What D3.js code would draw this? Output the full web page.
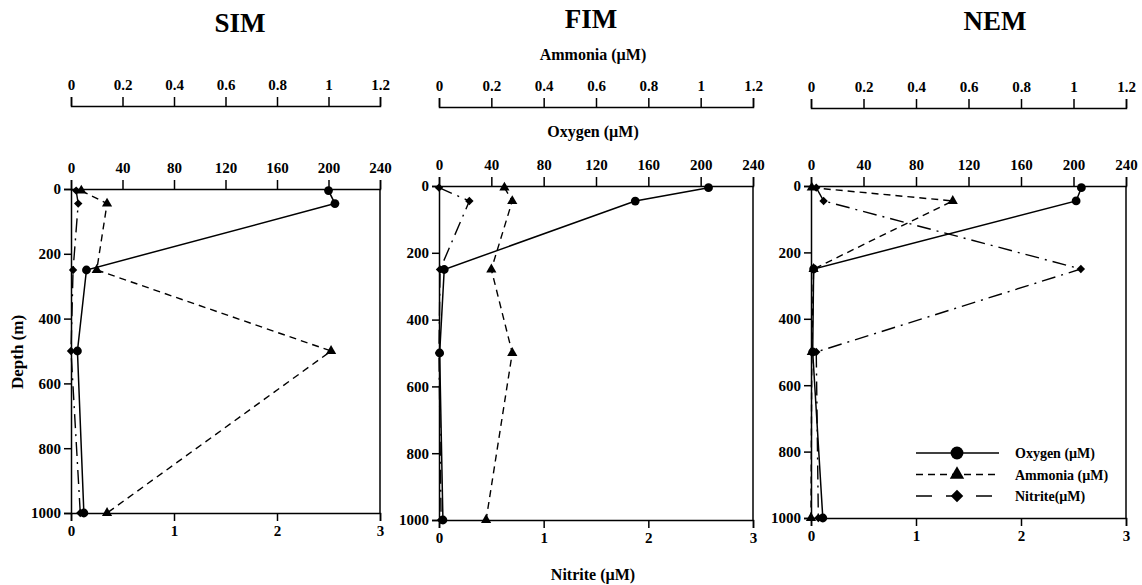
<!DOCTYPE html>
<html>
<head>
<meta charset="utf-8">
<script src="https://cdn.jsdelivr.net/npm/d3@7"></script>
<style>
  body { margin: 0; background: #fff; }
  text { font-family: "Liberation Serif", "Times New Roman", serif; font-weight: bold; fill: #000; }
</style>
</head>
<body>
<svg id="mainsvg" width="1142" height="585"></svg>
<script>

// data
const stations = ["SIM", "FIM", "NEM"]
const depths = [5, 45, 250, 500, 1000]

const oxygenSIM = [200, 205, 12, 5, 10]
const ammoniaSIM = [0.04, 0.14, 0.10, 1.01, 0.14]
const nitriteSIM = [0.05, 0.07, 0.02, 0.0, 0.09]

const oxygenFIM = [206, 150, 4, 0.5, 3]
const ammoniaFIM = [0.25, 0.28, 0.20, 0.28, 0.18]
const nitriteFIM = [0.0, 0.29, 0.01, 0.0, 0.02]

const oxygenNEM = [206, 202, 2, 1.3, 9]
const ammoniaNEM = [0.003, 0.54, 0.01, 0.003, 0.0]
const nitriteNEM = [0.05, 0.12, 2.57, 0.05, 0.07]

const oxygenTicks = [0, 40, 80, 120, 160, 200, 240]
const ammoniaTicks = [0, 0.2, 0.4, 0.6, 0.8, 1, 1.2]
const nitriteTicks = [0, 1, 2, 3]
const depthTicks = [0, 200, 400, 600, 800, 1000]

const seriesNames = ["Oxygen (\u00b5M)", "Ammonia (\u00b5M)", "Nitrite(\u00b5M)"]

// layout
const panels = [
    {name: stations[0], x0: 71, x1: 380, y0: 189, y1: 513, ammY: 106, titleX: 240, titleY: 32,
     ox: oxygenSIM, am: ammoniaSIM, ni: nitriteSIM},
    {name: stations[1], x0: 439, x1: 753, y0: 186, y1: 520, ammY: 107, titleX: 591, titleY: 28,
     ox: oxygenFIM, am: ammoniaFIM, ni: nitriteFIM},
    {name: stations[2], x0: 811, x1: 1126, y0: 186, y1: 518, ammY: 108, titleX: 995, titleY: 30,
     ox: oxygenNEM, am: ammoniaNEM, ni: nitriteNEM}
]

const DASH_AM = "7,5"
const DASH_NI = "14,6,2,6"

let svg = d3.select("#mainsvg")

function styleAxis (g, size) {
    g.attr("font-family", null).attr("font-size", null)
    g.select(".domain").attr("stroke", "#000").attr("stroke-width", 1.5)
    g.selectAll(".tick line").attr("stroke", "#000").attr("stroke-width", 1.5)
    g.selectAll(".tick text")
    .style("font-family", "'Liberation Serif', serif")
    .style("font-weight", "bold")
    .style("font-size", size + "px")
    .attr("fill", "#000")
}

const fmtPlain = d3.format("")
const fmtInt = d3.format("d")

panels.forEach(function (p) {
    let g = svg.append("g").attr("class", "panel")

    let yScale = d3.scaleLinear().domain([0, 1000]).range([p.y0, p.y1])
    let xOx = d3.scaleLinear().domain([0, 240]).range([p.x0, p.x1])
    let xAm = d3.scaleLinear().domain([0, 1.2]).range([p.x0, p.x1])
    let xNi = d3.scaleLinear().domain([0, 3]).range([p.x0, p.x1])

    // title
    g.append("text")
    .attr("x", p.titleX).attr("y", p.titleY)
    .attr("text-anchor", "middle")
    .attr("font-size", 27)
    .text(p.name)

    // ammonia axis (floating above)
    let amAxis = g.append("g")
    .attr("transform", `translate(0, ${p.ammY})`)
    .call(d3.axisTop(xAm).tickValues(ammoniaTicks).tickSizeOuter(0).tickSize(9).tickPadding(7)
        .tickFormat(fmtPlain))
    styleAxis(amAxis, 15)

    // oxygen axis on top of the box
    let oxAxis = g.append("g")
    .attr("transform", `translate(0, ${p.y0})`)
    .call(d3.axisTop(xOx).tickValues(oxygenTicks).tickSizeOuter(0).tickSize(9).tickPadding(7)
        .tickFormat(fmtInt))
    styleAxis(oxAxis, 15)

    // nitrite axis at the bottom
    let niAxis = g.append("g")
    .attr("transform", `translate(0, ${p.y1})`)
    .call(d3.axisBottom(xNi).tickValues(nitriteTicks).tickSizeOuter(0).tickSize(8).tickPadding(4)
        .tickFormat(fmtInt))
    styleAxis(niAxis, 15)

    // depth axis
    let dAxis = g.append("g")
    .attr("transform", `translate(${p.x0}, 0)`)
    .call(d3.axisLeft(yScale).tickValues(depthTicks).tickSizeOuter(0).tickSize(7).tickPadding(3)
        .tickFormat(fmtInt))
    styleAxis(dAxis, 15)

    // right border
    g.append("line")
    .attr("x1", p.x1).attr("x2", p.x1)
    .attr("y1", p.y0).attr("y2", p.y1)
    .attr("stroke", "#000").attr("stroke-width", 1.5)

    // lines
    const mkLine = xs => d3.line().x(d => xs(d)).y((d, i) => yScale(depths[i]))

    g.append("path").datum(p.ni)
    .attr("d", mkLine(xNi))
    .attr("fill", "none").attr("stroke", "#000").attr("stroke-width", 1.4)
    .attr("stroke-dasharray", DASH_NI)

    g.append("path").datum(p.am)
    .attr("d", mkLine(xAm))
    .attr("fill", "none").attr("stroke", "#000").attr("stroke-width", 1.4)
    .attr("stroke-dasharray", DASH_AM)

    g.append("path").datum(p.ox)
    .attr("d", mkLine(xOx))
    .attr("fill", "none").attr("stroke", "#000").attr("stroke-width", 1.5)

    // markers
    g.selectAll(".ni").data(p.ni).enter().append("path")
    .attr("class", "ni")
    .attr("transform", (d, i) => `translate(${xNi(d)}, ${yScale(depths[i])})`)
    .attr("d", d3.symbol(d3.symbolDiamond2, 45))
    .attr("fill", "#000")

    g.selectAll(".am").data(p.am).enter().append("path")
    .attr("class", "am")
    .attr("transform", (d, i) => `translate(${xAm(d)}, ${yScale(depths[i])})`)
    .attr("d", d3.symbol(d3.symbolTriangle, 45))
    .attr("fill", "#000")

    g.selectAll(".ox").data(p.ox).enter().append("circle")
    .attr("class", "ox")
    .attr("cx", d => xOx(d))
    .attr("cy", (d, i) => yScale(depths[i]))
    .attr("r", 4.4)
    .attr("fill", "#000")
})

// axis titles
svg.append("text").attr("x", 593).attr("y", 60).attr("text-anchor", "middle")
.attr("font-size", 16).text("Ammonia (\u00b5M)")
svg.append("text").attr("x", 593).attr("y", 137).attr("text-anchor", "middle")
.attr("font-size", 16).text("Oxygen (\u00b5M)")
svg.append("text").attr("x", 593).attr("y", 580).attr("text-anchor", "middle")
.attr("font-size", 16).text("Nitrite (\u00b5M)")
svg.append("text")
.attr("transform", "translate(23, 352) rotate(-90)")
.attr("text-anchor", "middle")
.attr("font-size", 17).text("Depth (m)")

// legend
let legend = svg.append("g").attr("id", "legend")
const legDash = [null, DASH_AM, "16,14"]
const legSym = [d3.symbolCircle, d3.symbolTriangle, d3.symbolDiamond2]
const legSize = [130, 90, 100]
seriesNames.forEach(function (name, i) {
    let y = 453 + i * 21.5
    legend.append("line")
    .attr("x1", 916).attr("x2", 999).attr("y1", y).attr("y2", y)
    .attr("stroke", "#000").attr("stroke-width", 1.5)
    .attr("stroke-dasharray", legDash[i])
    legend.append("path")
    .attr("transform", `translate(957, ${y})`)
    .attr("d", d3.symbol(legSym[i], legSize[i]))
    .attr("fill", "#000")
    legend.append("text")
    .attr("x", 1015).attr("y", y + 5)
    .attr("font-size", 14).text(name)
})
</script>
</body>
</html>
